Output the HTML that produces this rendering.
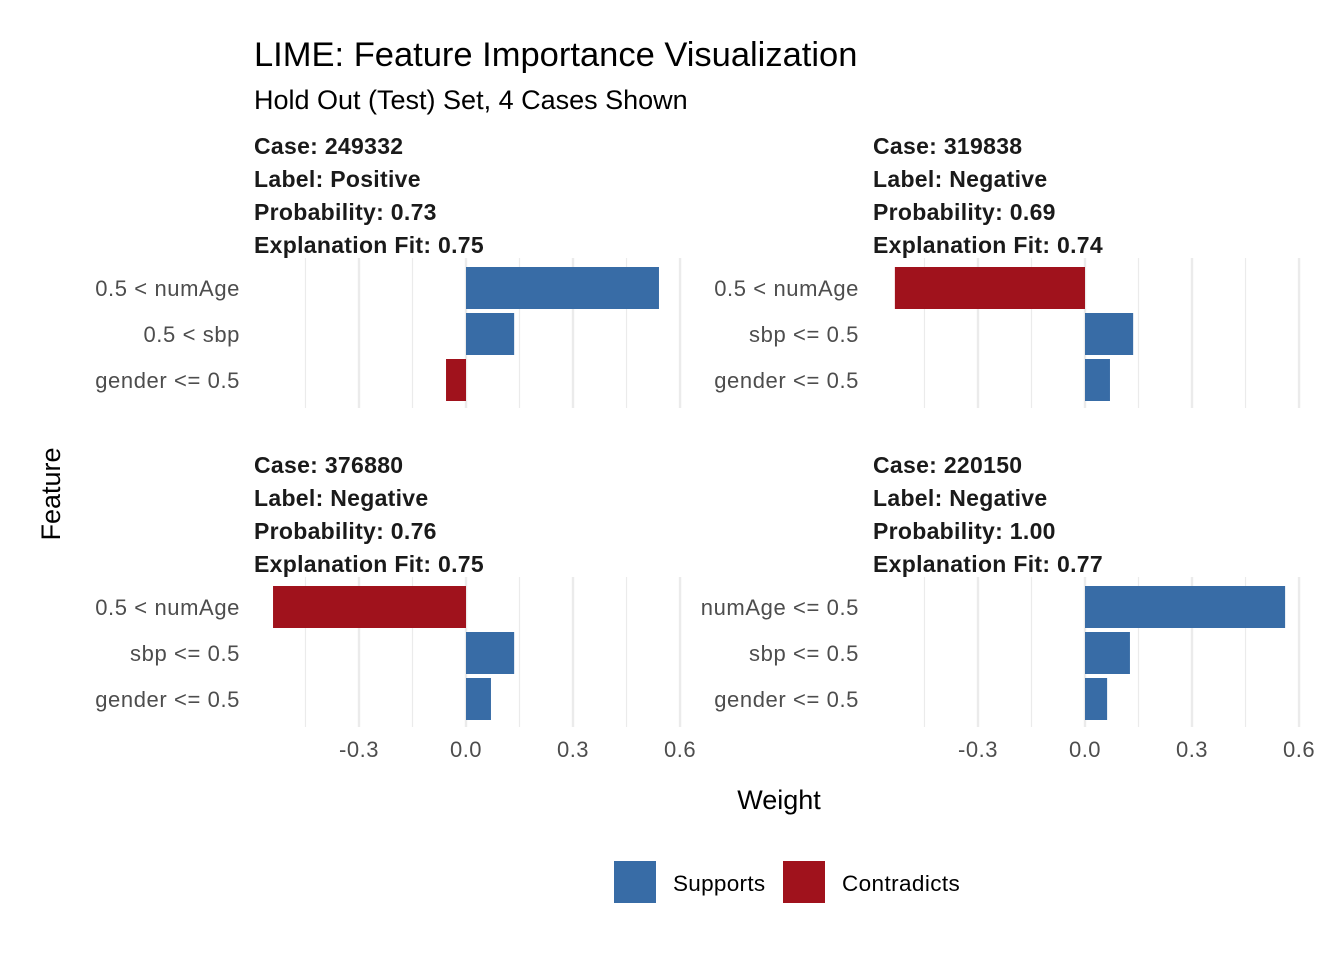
<!DOCTYPE html>
<html><head><meta charset="utf-8"><style>
html,body{margin:0;padding:0;background:#fff;}
svg{display:block;font-family:"Liberation Sans",Arial,sans-serif;}
</style></head><body>
<svg id="chart" width="1344" height="960" viewBox="0 0 1344 960" xmlns="http://www.w3.org/2000/svg">
<rect width="1344" height="960" fill="#fff"/>
<text x="254" y="66" font-size="34.5" fill="#000">LIME: Feature Importance Visualization</text>
<text x="254" y="109" font-size="27" fill="#000">Hold Out (Test) Set, 4 Cases Shown</text>
<text x="779" y="809" font-size="27" text-anchor="middle" fill="#000">Weight</text>
<text transform="translate(60,494) rotate(-90)" font-size="27" text-anchor="middle" fill="#000">Feature</text>
<g id="panels"></g>
<rect x="614" y="861" width="42" height="42" fill="#386CA6"/>
<text x="673" y="891" font-size="22.5" letter-spacing="0.3" fill="#000">Supports</text>
<rect x="783" y="861" width="42" height="42" fill="#A0121C"/>
<text x="842" y="891" font-size="22.5" letter-spacing="0.4" fill="#000">Contradicts</text>
</svg>
<script>
const cases = ["249332","319838","376880","220150"];
const labels = ["Positive","Negative","Negative","Negative"];
const probs = ["0.73","0.69","0.76","1.00"];
const fits = ["0.75","0.74","0.75","0.77"];
const features = [
  ["0.5 < numAge","0.5 < sbp","gender <= 0.5"],
  ["0.5 < numAge","sbp <= 0.5","gender <= 0.5"],
  ["0.5 < numAge","sbp <= 0.5","gender <= 0.5"],
  ["numAge <= 0.5","sbp <= 0.5","gender <= 0.5"]
];
const weights = [
  [0.541,0.135,-0.056],
  [-0.533,0.135,0.07],
  [-0.541,0.135,0.07],
  [0.561,0.126,0.062]
];
const xTicks = [-0.3,0.0,0.3,0.6];
const xTickLabels = ["-0.3","0.0","0.3","0.6"];
const minorTicks = [-0.45,-0.15,0.15,0.45];

const NS="http://www.w3.org/2000/svg";
const root=document.getElementById('panels');
function mk(tag,attrs,parent){const e=document.createElementNS(NS,tag);for(const k in attrs)e.setAttribute(k,attrs[k]);parent.appendChild(e);return e;}
const zeroX=[466,1085], rowTop=[258,577], scale=356.7;
for(let p=0;p<4;p++){
  const col=p%2,row=Math.floor(p/2);
  const x0=zeroX[col], yTop=rowTop[row];
  const xs=v=>x0+v*scale;
  const ys=i=>yTop+30+i*46;
  const g=mk('g',{},root);
  
  
  const sx=col?873:254, sy=row?465:146;
  const strip=[`Case: ${cases[p]}`,`Label: ${labels[p]}`,`Probability: ${probs[p]}`,`Explanation Fit: ${fits[p]}`];
  strip.forEach((s,i)=>{const t=mk('text',{x:sx,y:sy+8+i*33,'font-size':23,'letter-spacing':0.3,'font-weight':'bold',fill:'#1a1a1a'},g);t.textContent=s;
    
    });
  minorTicks.forEach(v=>{const l=mk('line',{x1:xs(v),x2:xs(v),y1:yTop,y2:yTop+150,stroke:'#ebebeb','stroke-width':1.2},g);
    
    });
  xTicks.forEach(v=>{const l=mk('line',{x1:xs(v),x2:xs(v),y1:yTop,y2:yTop+150,stroke:'#ebebeb','stroke-width':2.4},g);
    
    });
  weights[p].forEach((w,i)=>{
    const b=mk('rect',{x:Math.min(xs(0),xs(w)),y:ys(i)-21,width:Math.abs(xs(w)-xs(0)),height:42,fill:w>=0?'#386CA6':'#A0121C'},g);
    
    
    const t=mk('text',{x:col?859:240,y:ys(i)+8,'font-size':22,'letter-spacing':0.6,'text-anchor':'end',fill:'#4d4d4d'},g);
    t.textContent=features[p][i];
    
    
  });
  if(row===1){
    xTicks.forEach((v,i)=>{const t=mk('text',{x:xs(v),y:757,'font-size':22,'letter-spacing':0.5,'text-anchor':'middle',fill:'#4d4d4d'},g);t.textContent=xTickLabels[i];
      
      });
  }
}
</script>
</body></html>
